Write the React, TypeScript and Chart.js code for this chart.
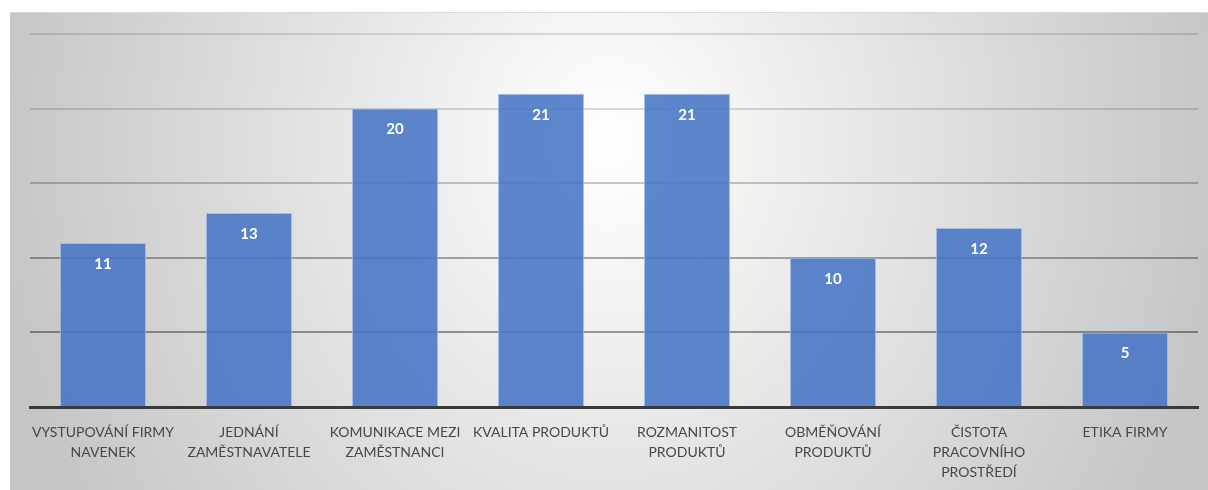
import React, { useEffect, useRef } from "react";
import { Chart, registerables } from "chart.js";

Chart.register(...registerables);

const categories: (string | string[])[] = [
  ["VYSTUPOVÁNÍ FIRMY", "NAVENEK"],
  ["JEDNÁNÍ", "ZAMĚSTNAVATELE"],
  ["KOMUNIKACE MEZI", "ZAMĚSTNANCI"],
  ["KVALITA PRODUKTŮ"],
  ["ROZMANITOST", "PRODUKTŮ"],
  ["OBMĚŇOVÁNÍ", "PRODUKTŮ"],
  ["ČISTOTA", "PRACOVNÍHO", "PROSTŘEDÍ"],
  ["ETIKA FIRMY"],
];
const values: number[] = [11, 13, 20, 21, 21, 10, 12, 5];
const yTicks: number[] = [0, 5, 10, 15, 20, 25];

const gridColors: Record<number, string> = {
  0: "rgba(0,0,0,0)",
  5: "rgba(0,0,0,0.38)",
  10: "rgba(0,0,0,0.32)",
  15: "rgba(0,0,0,0.22)",
  20: "rgba(0,0,0,0.14)",
  25: "rgba(0,0,0,0.12)",
};

const FONT = "Lato, 'Open Sans', sans-serif";

const dataLabelPlugin = {
  id: "dataLabelsInside",
  afterDatasetsDraw(chart: any) {
    const ctx = chart.ctx;
    const meta = chart.getDatasetMeta(0);
    ctx.save();
    ctx.fillStyle = "#ffffff";
    ctx.font = `bold 15px ${FONT}`;
    ctx.textAlign = "center";
    ctx.textBaseline = "middle";
    meta.data.forEach((bar: any, i: number) => {
      ctx.fillText(String(values[i]), bar.x, bar.y + 21);
    });
    ctx.restore();
  },
};

export default function App() {
  const ref = useRef<HTMLCanvasElement | null>(null);
  useEffect(() => {
    if (!ref.current) return;
    const chart = new Chart(ref.current, {
      type: "bar",
      data: {
        labels: categories,
        datasets: [
          {
            data: values,
            backgroundColor: "rgba(68,114,196,0.86)",
            borderColor: "rgba(160,185,230,0.9)",
            borderWidth: 1,
            categoryPercentage: 1,
            barPercentage: 0.59,
          },
        ],
      },
      options: {
        responsive: false,
        animation: false,
        layout: { padding: { left: 20, right: 10, top: 21, bottom: 0 } },
        plugins: {
          legend: { display: false },
          tooltip: { enabled: false },
        },
        scales: {
          x: {
            grid: { display: false, drawTicks: false },
            border: { display: true, color: "#3a3a3a", width: 3 },
            ticks: {
              color: "#474747",
              font: { family: FONT, size: 14, lineHeight: "20px" },
              padding: 15,
              maxRotation: 0,
              autoSkip: false,
            },
            afterFit: (scale: any) => {
              scale.height = 83;
            },
          },
          y: {
            min: 0,
            max: 25,
            afterBuildTicks: (scale: any) => {
              scale.ticks = yTicks.map((v) => ({ value: v }));
            },
            ticks: { display: false },
            border: { display: false },
            grid: {
              drawTicks: false,
              lineWidth: 2,
              color: (c: any) => gridColors[c.tick?.value] ?? "rgba(0,0,0,0.2)",
            },
            afterFit: (scale: any) => {
              scale.width = 0;
            },
          },
        },
      },
      plugins: [dataLabelPlugin],
    });
    return () => chart.destroy();
  }, []);

  return (
    <div
      style={{
        position: "absolute",
        left: 10,
        top: 12,
        width: 1198,
        height: 478,
        borderTop: "1px solid #d9d9d9",
        boxSizing: "border-box",
        background:
          "radial-gradient(620px 720px at 600px 130px, #ffffff 0%, #c5c5c5 100%)",
      }}
    >
      <canvas ref={ref} width={1198} height={477} style={{ display: "block" }} />
    </div>
  );
}
